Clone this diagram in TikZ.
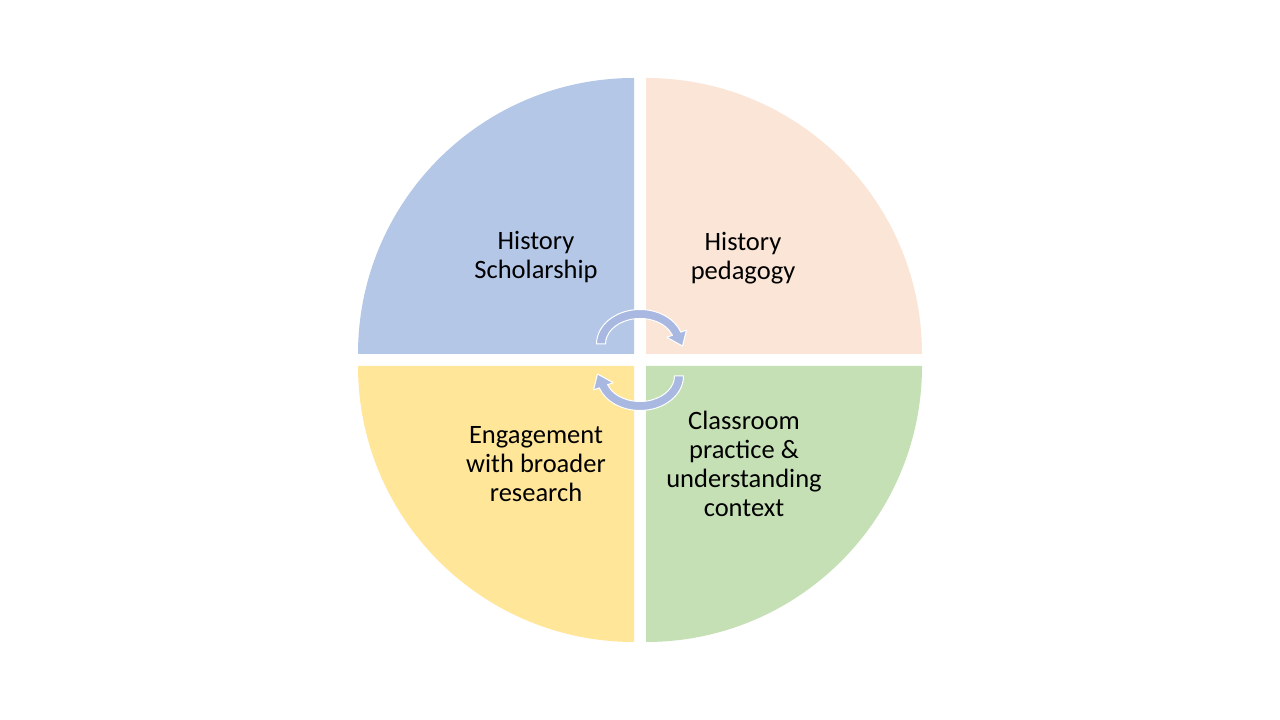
\documentclass[tikz,border=0pt]{standalone}
\usepackage{fontspec}
\setmainfont{Carlito}
\definecolor{qblue}{HTML}{B4C7E7}
\definecolor{qpeach}{HTML}{FBE5D6}
\definecolor{qyellow}{HTML}{FFE699}
\definecolor{qgreen}{HTML}{C5E0B4}
\definecolor{arrowblue}{RGB}{168,184,224}

\begin{document}
\begin{tikzpicture}[x=1pt, y=1pt, line join=round,
	lbl/.style={align=center, text=black, font=\fontsize{26.5}{29}\selectfont},
	cyclearrow/.style={fill=arrowblue, draw=white, line width=1pt}]
\useasboundingbox (0,0) rectangle (1280,720);
\fill[white] (0,0) rectangle (1280,720);

%========================
% four quarters, centre (640,360), gap 12
%========================
\fill[qblue] (634,366) -- (358,366) arc[start angle=180, end angle=90, radius=276] -- cycle;
\fill[qpeach] (646,366) -- (646,642) arc[start angle=90, end angle=0, radius=276] -- cycle;
\fill[qyellow] (634,354) -- (634,78) arc[start angle=270, end angle=180, radius=276] -- cycle;
\fill[qgreen] (646,354) -- (922,354) arc[start angle=0, end angle=-90, radius=276] -- cycle;

% labels
\node[lbl] (scholar) at (536,462.5) {History\\Scholarship};
\node[lbl] (pedagogy) at (743,461.5) {History\\pedagogy};
\node[lbl] (engage) at (536,256) {Engagement\\with broader\\research};
\node[lbl] (practice) at (744,256) {Classroom\\practice \&\\understanding\\context};

% circular arrows in the middle (second one turned half round)
\foreach \rot in {0,180} {
\begin{scope}[rotate around={\rot:(640,360)}, shift={(640,376)}]
	\path[cyclearrow] (-43.5,0) arc[start angle=180, end angle=20, x radius=43.5, y radius=34.5]
		-- (46.5,14) -- (42.5,-2) -- (26.8,6.7) -- (32.42,8.72)
		arc[start angle=20, end angle=180, x radius=34.5, y radius=25.5] -- cycle;
\end{scope}
}
\end{tikzpicture}
\end{document}
